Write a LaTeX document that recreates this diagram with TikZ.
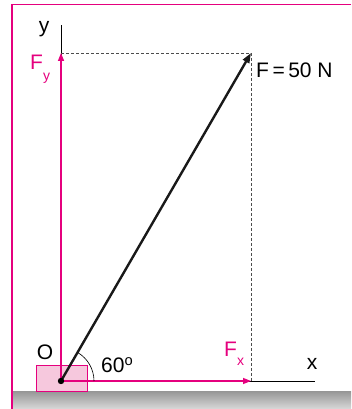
\documentclass[tikz,border=0pt]{standalone}
\usepackage{fontspec}
\setmainfont{Liberation Sans}
\usetikzlibrary{arrows.meta}
\definecolor{mag}{HTML}{E5007E}
\definecolor{pinkbox}{HTML}{F6C8DD}
\begin{document}
\begin{tikzpicture}[
  x=1pt, y=1pt,
  frame/.style={draw=mag, line width=1.5pt},
  axis/.style={draw=black, line width=0.8pt},
  comp/.style={draw=mag, line width=1.4pt, -{Triangle[length=8pt, width=6pt]}},
  force/.style={draw=black!90, line width=2.4pt, -{Triangle[length=10pt, width=7pt]}},
  guide/.style={draw=black!70, line width=0.7pt, dash pattern=on 3pt off 2pt},
  lbl/.style={font=\fontsize{21}{24}\selectfont, inner sep=0pt},
  maglbl/.style={lbl, text=mag},
]
\useasboundingbox (0,0) rectangle (351,409);

%% Ground and frame
\shade[top color=black!40, bottom color=black!15] (12,0) rectangle (351,17);
\draw[frame] (351,404.5) -- (12,404.5) -- (12,0);

%% Points
\coordinate (O) at (61,28);
\coordinate (ytop) at (61,384);
\coordinate (xend) at (315,28);
\coordinate (Ftip) at (251,356);
\coordinate (Fxtip) at (251,28);
\coordinate (Fytip) at (61,356);

%% Block
\draw[draw=mag, fill=pinkbox, line width=1pt] (36,17) rectangle (87,43);

%% Axes
\draw[axis] (O) -- (ytop);
\draw[axis] (O) -- (xend);

%% Dashed projections
\draw[guide] (Fytip) -- (Ftip);
\draw[guide] (Ftip) -- (Fxtip);

%% Components
\draw[comp] (O) -- (Fxtip);
\draw[comp] (O) -- (Fytip);

%% Angle
\draw[line width=0.6pt] ([xshift=33pt]O) arc[start angle=0, end angle=60, radius=33pt];

%% Force
\draw[force] (O) -- (Ftip);
\fill (O) circle[radius=3.2pt];

%% Labels
\node[lbl] (ylbl) at (44,380) {y};
\node[lbl] (xlbl) at (312,45) {x};
\node[lbl] (olbl) at (45,57) {O};
\node[lbl, anchor=west] (anglbl) at (101,44) {60\textsuperscript{o}};
\node[lbl, anchor=west] (Flbl) at (256,339) {F\,=\,50 N};
\node[maglbl, anchor=west] (Fylbl) at (30,340) {F\raisebox{-1.0ex}{\fontsize{14}{16}\selectfont y}};
\node[maglbl, anchor=west] (Fxlbl) at (224,55) {F\raisebox{-0.8ex}{\fontsize{14}{16}\selectfont x}};

\end{tikzpicture}
\end{document}
